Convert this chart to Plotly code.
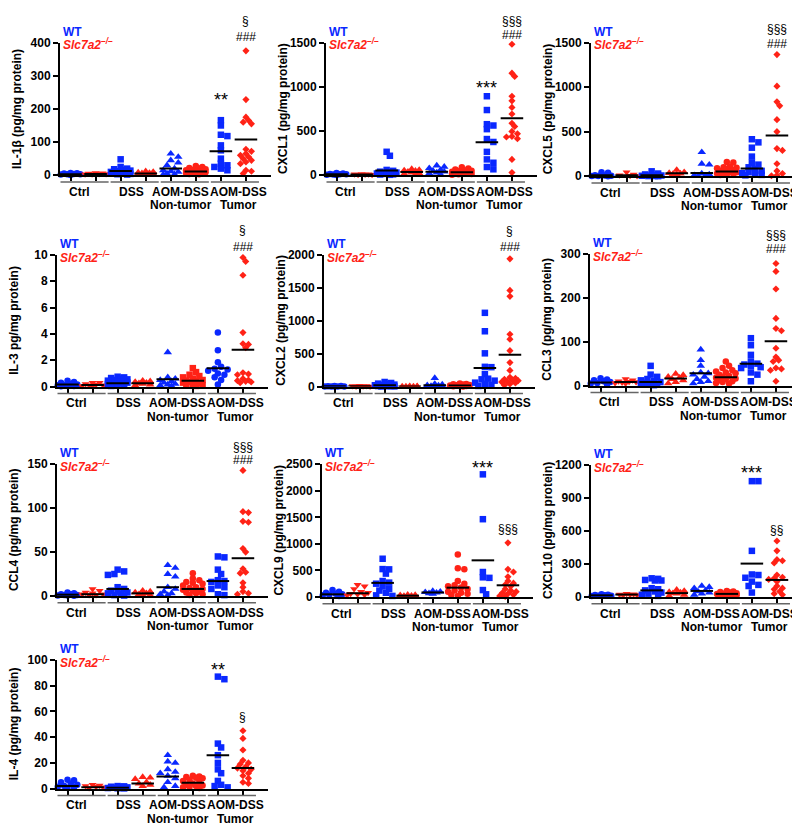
import plotly.graph_objects as go

BLUE = "#0a28ff"
RED = "#ff2216"
FONT = "Liberation Sans"

# group order: Ctrl WT, Ctrl KO, DSS WT, DSS KO, NT WT, NT KO, Tumor WT, Tumor KO
GROUP_LINE1 = ["Ctrl", "DSS", "AOM-DSS", "AOM-DSS"]
GROUP_LINE2 = ["", "", "Non-tumor", "Tumor"]
GROUP_LINE1_POS = [0.35, 2.42, 4.38, 6.72]
GROUP_LINE2_POS = [0.35, 2.42, 4.42, 6.7]

IL1B = [
    [7, 6, 5, 4, 3, 3, 2, 1],
    [7, 6, 5, 4, 4, 3, 3, 2],
    [48, 25, 20, 18, 15, 14, 12, 10, 10, 8, 6, 5, 4, 3, 2],
    [12, 10, 8, 7, 6, 5, 4, 3, 2, 1],
    [65, 55, 45, 38, 30, 20, 15, 12, 10, 5, 3, 2],
    [28, 25, 22, 20, 18, 16, 15, 13, 12, 11, 10, 9, 8, 7, 6, 5, 4, 3],
    [166, 150, 122, 118, 90, 75, 50, 35, 30, 25, 20, 15],
    [375, 228, 175, 165, 160, 155, 78, 72, 65, 60, 55, 50, 45, 40, 35, 15, 12, 5],
]
IL1B_MEAN = [3, 4, 13, 5, 20, 11, 72, 108]

CXCL1 = [
    [25, 20, 15, 12, 10, 8, 5, 3],
    [15, 12, 10, 8, 6, 5],
    [265, 220, 60, 50, 40, 35, 30, 25, 20, 15, 10, 8, 5],
    [70, 60, 55, 50, 40, 30, 20, 15, 10],
    [110, 95, 80, 60, 50, 40, 30, 20, 10],
    [90, 75, 65, 55, 50, 45, 40, 35, 30, 25, 20, 15, 10, 5],
    [893, 737, 577, 562, 521, 409, 376, 264, 179, 141, 93, 67],
    [1481, 1154, 1117, 893, 841, 767, 692, 588, 551, 495, 469, 439, 432, 413, 179, 30],
]
CXCL1_MEAN = [12, 8, 55, 38, 40, 33, 372, 644]

CXCL5 = [
    [45, 40, 10, 8, 5, 3, 2, 1],
    [45, 20, 10, 5, 3],
    [55, 30, 20, 10, 8, 5, 3, 2, 1],
    [70, 45, 35, 30, 25, 20],
    [270, 140, 130, 30, 20, 10, 5, 3],
    [160, 155, 110, 100, 95, 90, 80, 70, 60, 50, 45, 40, 30, 25, 20, 15],
    [415, 380, 320, 220, 150, 130, 100, 80, 60, 45, 35, 25, 15, 10],
    [1365, 1010, 835, 790, 635, 500, 310, 290, 140, 60, 30, 10, 5],
]
CXCL5_MEAN = [12, 12, 10, 32, 37, 52, 88, 457]

IL3 = [
    [0.45, 0.35, 0.3, 0.2, 0.15, 0.1, 0.1, 0.05, 0.05, 0.02],
    [0.3, 0.3, 0.2, 0.15, 0.1, 0.1, 0.05, 0.05],
    [0.75, 0.7, 0.65, 0.6, 0.55, 0.5, 0.45, 0.4, 0.35, 0.3, 0.3, 0.25, 0.2, 0.2, 0.15, 0.1, 0.05],
    [0.45, 0.4, 0.35, 0.3, 0.25, 0.2, 0.15, 0.1],
    [2.6, 0.7, 0.6, 0.5, 0.4, 0.3, 0.2, 0.15, 0.1, 0.05],
    [1.4, 1.1, 0.9, 0.8, 0.7, 0.6, 0.5, 0.45, 0.4, 0.35, 0.3, 0.25, 0.2, 0.15, 0.1, 0.05],
    [4.1, 2.75, 1.85, 1.5, 1.35, 1.3, 1.2, 1.0, 0.9, 0.7, 0.5, 0.15],
    [9.8, 9.5, 8.45, 4.1, 3.25, 3.2, 2.95, 1.05, 0.95, 0.9, 0.6, 0.5, 0.45, 0.4, 0.35, 0.3],
]
IL3_MEAN = [0.15, 0.12, 0.25, 0.25, 0.55, 0.45, 1.4, 2.8]

CXCL2 = [
    [10, 8, 5, 3, 2, 1, 1, 0],
    [12, 10, 8, 5, 3, 2],
    [70, 55, 45, 40, 30, 25, 20, 15, 10, 8, 5, 3, 2],
    [5, 4, 3, 2, 2, 1, 1],
    [130, 40, 30, 20, 15, 10, 8, 5],
    [45, 40, 35, 30, 25, 20, 15, 10, 8, 5, 3],
    [1120, 840, 505, 300, 295, 190, 120, 110, 90, 60, 40, 25, 10],
    [1940, 1460, 1370, 795, 720, 545, 365, 245, 140, 125, 110, 100, 90, 80, 70, 55, 40, 20],
]
CXCL2_MEAN = [5, 6, 20, 2, 20, 15, 284, 483]

CCL3 = [
    [17, 14, 12, 10, 8, 6, 5, 3],
    [15, 12, 10, 9, 8, 7, 6, 5],
    [45, 25, 20, 15, 12, 10, 8, 6, 5, 4, 3, 2, 1],
    [27, 24, 20, 18, 15, 12, 8, 5],
    [82, 58, 45, 30, 28, 25, 20, 15, 10, 8, 5],
    [55, 45, 40, 35, 32, 30, 28, 25, 22, 20, 18, 16, 15, 12, 10, 8, 6, 5],
    [108, 92, 70, 55, 50, 48, 45, 42, 40, 30, 25, 10],
    [278, 260, 220, 153, 130, 125, 85, 65, 58, 55, 40, 38, 35, 10],
]
CCL3_MEAN = [7, 8, 8, 16, 28, 19, 50, 101]

CCL4 = [
    [4, 3, 2, 2, 1, 1, 0.5, 0.5, 0.2],
    [8, 6, 4, 3, 2, 2, 1, 1],
    [30, 28, 25, 24, 10, 8, 6, 5, 4, 3, 2, 1, 0.5],
    [6, 5, 4, 3, 2, 1, 1],
    [35, 32, 25, 22, 10, 8, 5, 3, 2, 1],
    [26, 20, 18, 16, 15, 14, 12, 10, 9, 8, 7, 6, 5, 4, 3, 2, 1],
    [45, 44, 30, 25, 18, 17, 16, 12, 10, 8, 2, 1],
    [143, 96, 95, 85, 84, 54, 50, 31, 27, 26, 15, 10, 5, 3, 2],
]
CCL4_MEAN = [1.5, 2, 8, 3, 10, 8, 17, 43]

CXCL9 = [
    [130, 100, 80, 60, 50, 40, 30, 20],
    [230, 200, 150, 100, 80, 60, 50, 40, 30],
    [720, 525, 520, 440, 300, 270, 250, 200, 150, 120, 80, 30, 20],
    [40, 35, 30, 25, 20, 15, 10, 5],
    [110, 100, 90, 80, 70, 60],
    [800, 540, 520, 300, 250, 220, 200, 180, 150, 120, 100, 80, 60, 40, 20],
    [2310, 1465, 470, 370, 360, 130, 50],
    [1020, 520, 470, 380, 300, 260, 230, 200, 150, 120, 100, 80, 60, 40, 20, 10],
]
CXCL9_MEAN = [50, 70, 265, 25, 85, 175, 690, 220]

CXCL10 = [
    [25, 20, 18, 15, 12, 10, 8],
    [30, 25, 22, 20, 18, 15],
    [170, 165, 155, 150, 150, 80, 70, 60, 50, 40, 30, 20, 10],
    [65, 55, 45, 40, 35, 30, 20, 10],
    [100, 90, 80, 60, 50, 40, 30, 20],
    [55, 50, 45, 40, 35, 30, 28, 25, 22, 20, 18, 15, 10],
    [1055, 1055, 420, 205, 200, 175, 140, 110, 100, 40],
    [510, 420, 340, 330, 310, 200, 180, 170, 160, 140, 100, 80, 70, 50, 30, 20],
]
CXCL10_MEAN = [15, 22, 60, 35, 55, 28, 304, 155]

IL4 = [
    [7, 6.5, 5, 4, 3, 2, 1.5, 1, 0.5],
    [3, 2.5, 2, 1.5, 1, 0.5],
    [2, 1.8, 1.5, 1.2, 1, 0.8, 0.5, 0.3, 0.2],
    [9, 8.5, 7.5, 5, 4, 3, 2],
    [26, 21, 20, 15, 13, 12, 10, 8, 5, 2, 1],
    [10, 9.5, 9, 8.5, 8, 7, 6, 5, 4, 3, 2.5, 2, 1.5, 1, 0.5],
    [87, 85, 35, 32, 26, 20, 15, 12, 6, 3, 2, 1],
    [45, 39, 30, 22, 20, 19, 17, 16, 15, 14, 12, 10, 8, 5, 4],
]
IL4_MEAN = [2, 1, 0.8, 4, 9.5, 4.5, 26, 16]

MARKERS = ["circle", "triangle-down", "square", "triangle-up", "triangle-up", "circle", "square", "diamond"]
MARKERS_IL3 = ["circle", "triangle-down", "square", "triangle-up", "triangle-up", "square", "circle", "diamond"]
SIZES = {"circle": 6.5, "triangle-down": 7, "square": 6.5, "triangle-up": 7.5, "diamond": 5.5}

PANELS = [
    dict(title="IL-1β (pg/mg protein)", data=IL1B, means=IL1B_MEAN, ymax=400, dtick=100,
         marks=[(6, "**", 238), (7, "###", 417), (7, "§", 466)]),
    dict(title="CXCL1 (pg/mg protein)", data=CXCL1, means=CXCL1_MEAN, ymax=1500, dtick=500,
         marks=[(6, "***", 1030), (7, "###", 1585), (7, "§§§", 1742)]),
    dict(title="CXCL5 (pg/mg protein)", data=CXCL5, means=CXCL5_MEAN, ymax=1500, dtick=500,
         marks=[(7, "###", 1480), (7, "§§§", 1650)]),
    dict(title="IL-3 pg/mg protein)", data=IL3, means=IL3_MEAN, ymax=10, dtick=2,
         marks=[(7, "###", 10.6), (7, "§", 11.85)], markers=MARKERS_IL3),
    dict(title="CXCL2 (pg/mg protein)", data=CXCL2, means=CXCL2_MEAN, ymax=2000, dtick=500,
         marks=[(7, "###", 2114), (7, "§", 2363)]),
    dict(title="CCL3 (pg/mg protein)", data=CCL3, means=CCL3_MEAN, ymax=300, dtick=100,
         marks=[(7, "###", 310), (7, "§§§", 343)]),
    dict(title="CCL4 (pg/mg protein)", data=CCL4, means=CCL4_MEAN, ymax=150, dtick=50,
         marks=[(7, "###", 155), (7, "§§§", 170)]),
    dict(title="CXCL9 (pg/mg protein)", data=CXCL9, means=CXCL9_MEAN, ymax=2500, dtick=500,
         marks=[(6, "***", 2512), (7, "§§§", 1272)]),
    dict(title="CXCL10 (pg/mg protein)", data=CXCL10, means=CXCL10_MEAN, ymax=1200, dtick=300,
         marks=[(6, "***", 1164), (7, "§§", 612)]),
    dict(title="IL-4 (pg/mg protein)", data=IL4, means=IL4_MEAN, ymax=100, dtick=20,
         marks=[(6, "**", 95), (7, "§", 56)]),
]

# panel placement in pixels: y-axis x, top of y-axis, y of zero line
GEOM = [(52, 28, 163), (318, 28, 163), (583, 28, 164),
        (49, 244, 378), (316, 244, 378), (582, 243, 377),
        (49, 457, 591), (314, 457, 592), (583, 458, 592),
        (49, 656, 787)]
W, H = 800, 826
AXW = 211
XR = [-0.42, 8.0]
PXU = AXW / (XR[1] - XR[0])


def px(x):
    return x / W


def py(y):
    return 1 - y / H


def swarm(vals, ymax, hpx, size, maxoff=0.42 * PXU):
    # small beeswarm: push overlapping points sideways, within the group width
    placed = []
    step = size * 0.5
    mind = size * 0.75
    cands = [0.0]
    j = 1
    while j * step <= maxoff:
        cands += [j * step, -j * step]
        j += 1
    for v in vals:
        yp = v / ymax * hpx
        best, bestd = 0.0, -1
        for c in cands:
            d = min([((c - a) ** 2 + (yp - b) ** 2) ** 0.5 for a, b in placed] or [1e9])
            if d >= mind:
                best = c
                break
            if d > bestd:
                best, bestd = c, d
        placed.append((best, yp))
    return [c / PXU for c, _ in placed]


fig = go.Figure()
annotations = []
shapes = []
tick_font = dict(family=FONT, size=12, color="black", weight="bold")
lab_font = dict(family=FONT, size=12, color="black", weight="bold")
title_font = dict(family=FONT, size=12, color="black", weight="bold")

for i, (p, (ax_x, y_top, y0)) in enumerate(zip(PANELS, GEOM)):
    n = "" if i == 0 else str(i + 1)
    xa, ya = "x" + n, "y" + n
    hpx = y0 - y_top
    markers = p.get("markers", MARKERS)

    for g, vals in enumerate(p["data"]):
        sym = markers[g]
        sz = SIZES[sym]
        offs = swarm(vals, p["ymax"], hpx, sz)
        fig.add_trace(go.Scatter(
            x=[g + o for o in offs], y=vals, mode="markers", xaxis=xa, yaxis=ya,
            marker=dict(symbol=sym, size=sz, color=BLUE if g % 2 == 0 else RED, line=dict(width=0)),
            cliponaxis=False, showlegend=False, hoverinfo="y"))

    mx, my = [], []
    for g, m in enumerate(p["means"]):
        mx += [g - 0.45, g + 0.45, None]
        my += [m, m, None]
    fig.add_trace(go.Scatter(x=mx, y=my, mode="lines", xaxis=xa, yaxis=ya,
                             line=dict(color="black", width=2), showlegend=False, hoverinfo="skip"))

    fig.layout["xaxis" + n] = dict(
        domain=[px(ax_x), px(ax_x + AXW)], anchor=ya, range=XR,
        showline=True, linewidth=2, linecolor="black", ticks="outside",
        tickvals=list(range(8)), ticklen=4, tickwidth=1.5, tickcolor="black",
        showticklabels=False, showgrid=False, zeroline=False)
    fig.layout["yaxis" + n] = dict(
        domain=[py(y0), py(y_top)], anchor=xa, range=[0, p["ymax"]], dtick=p["dtick"],
        showline=True, linewidth=2, linecolor="black", ticks="outside",
        ticklen=5, tickwidth=2, tickcolor="black", tickfont=tick_font,
        showgrid=False, zeroline=False)

    # group underlines and labels
    for k in range(4):
        shapes.append(dict(type="line", xref=xa, yref="paper", x0=2 * k - 0.4, x1=2 * k + 1.52,
                           y0=py(y0 + 7), y1=py(y0 + 7), line=dict(color="#666666", width=1.5)))
        annotations.append(dict(text=GROUP_LINE1[k], xref=xa, yref="paper", x=GROUP_LINE1_POS[k],
                                y=py(y0 + 17), xanchor="center", yanchor="middle",
                                showarrow=False, font=lab_font))
        if GROUP_LINE2[k]:
            annotations.append(dict(text=GROUP_LINE2[k], xref=xa, yref="paper", x=GROUP_LINE2_POS[k],
                                    y=py(y0 + 30.5), xanchor="center", yanchor="middle",
                                    showarrow=False, font=lab_font))

    # y title
    annotations.append(dict(text=p["title"], xref="paper", yref="paper", x=px(ax_x - 43),
                            y=py((y0 + y_top) / 2), textangle=-90, showarrow=False,
                            xanchor="center", yanchor="middle", font=title_font))

    # legend text
    annotations.append(dict(text="WT", xref="paper", yref="paper", x=px(ax_x + 1), y=py(y_top - 11),
                            xanchor="left", yanchor="middle", showarrow=False,
                            font=dict(family=FONT, size=12, color=BLUE, weight="bold")))
    annotations.append(dict(text="<i>Slc7a2<sup>–/–</sup></i>", xref="paper", yref="paper",
                            x=px(ax_x + 1), y=py(y_top + 2), xanchor="left", yanchor="middle",
                            showarrow=False, font=dict(family=FONT, size=12, color=RED, weight="bold")))

    # significance marks
    for g, txt, val in p["marks"]:
        ypx = y0 - val / p["ymax"] * hpx
        star = txt.startswith("*")
        annotations.append(dict(text=txt, xref=xa, yref="paper", x=g, y=py(ypx),
                                xanchor="center", yanchor="middle", showarrow=False,
                                yshift=-4 if star else 0, borderpad=0,
                                font=dict(family=FONT, size=18 if star else 12, color="black")))

fig.update_layout(width=W, height=H, margin=dict(l=0, r=0, t=0, b=0),
                  plot_bgcolor="white", paper_bgcolor="white",
                  annotations=annotations, shapes=shapes)

fig.write_html("out.html")
